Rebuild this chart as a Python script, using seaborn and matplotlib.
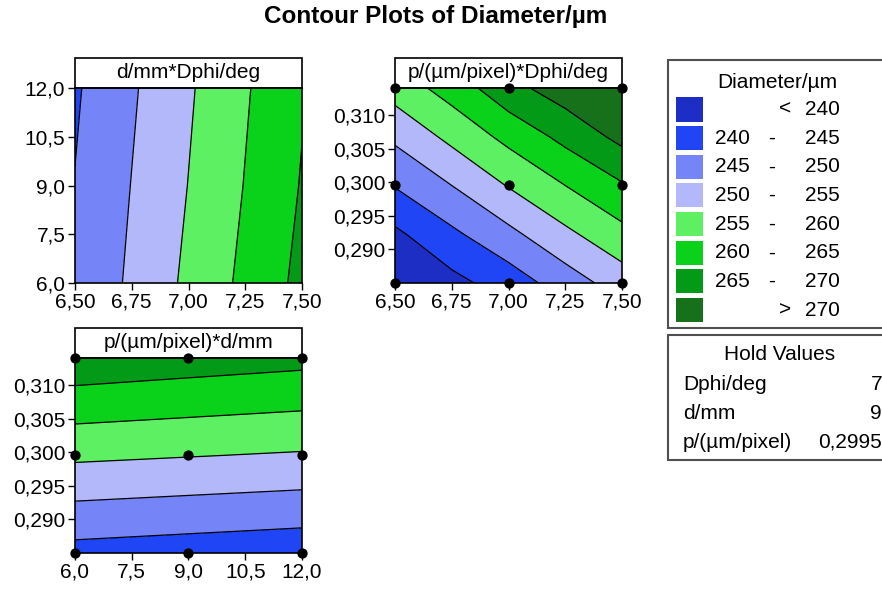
import numpy as np
import seaborn as sns
import matplotlib
matplotlib.use("Agg")
import matplotlib.pyplot as plt
from matplotlib.patches import Rectangle
from matplotlib.ticker import FuncFormatter

# ---- data -------------------------------------------------------------
# Diameter/um response over pairs of factors (other factors held)
dphi_fine = [6.5, 6.75, 7.0, 7.25, 7.5]
p_fine = [0.285, 0.29225, 0.2995, 0.30675, 0.314]
# rows: p (low -> high), columns: Dphi/deg
diam_p_dphi = [
    [232.6, 238.5, 242.3, 247.4, 252.4],
    [239.0, 244.0, 248.7, 253.9, 258.5],
    [245.3, 250.0, 255.3, 260.0, 264.5],
    [251.0, 256.3, 261.4, 266.4, 271.4],
    [257.2, 262.1, 268.4, 272.6, 277.8],
]

dphi_levels = [6.5, 7.0, 7.5]
d_levels = [6.0, 9.0, 12.0]
p_levels = [0.285, 0.2995, 0.314]
# rows: d/mm (low -> high), columns: Dphi/deg
diam_d_dphi = [
    [245.7, 256.0, 266.3],
    [245.15, 255.1, 265.3],
    [244.4, 254.4, 264.6],
]
# rows: p (low -> high), columns: d/mm
diam_p_d = [
    [243.3, 242.5, 241.7],
    [255.9, 255.2, 254.5],
    [268.6, 267.5, 266.5],
]

bounds = [200, 240, 245, 250, 255, 260, 265, 270, 300]
band_colors = ["#1c2ec4", "#1f45f5", "#7585f8", "#b3b8fb",
               "#5cf062", "#0ad21a", "#039a17", "#17701a"]
legend_low = ["", "240", "245", "250", "255", "260", "265", ""]
legend_sep = ["<", "-", "-", "-", "-", "-", "-", ">"]
legend_high = ["240", "245", "250", "255", "260", "265", "270", "270"]

hold_names = ["Dphi/deg", "d/mm", "p/(µm/pixel)"]
hold_values = ["7", "9", "0,2995"]

# ---- style ------------------------------------------------------------
sns.set_theme(style="white")
plt.rcParams["font.family"] = ["Liberation Sans", "DejaVu Sans"]
plt.rcParams["text.color"] = "black"
plt.rcParams["xtick.color"] = "black"
plt.rcParams["ytick.color"] = "black"
plt.rcParams["axes.labelcolor"] = "black"
FS = 15

W, H = 882, 589
fig = plt.figure(figsize=(W / 100, H / 100), dpi=100)
fig.patch.set_facecolor("white")


def px_axes(x0, y0, x1, y1):
    return fig.add_axes([x0 / W, 1 - y1 / H, (x1 - x0) / W, (y1 - y0) / H])


def comma_fmt(decimals):
    return FuncFormatter(lambda v, _: f"{v:.{decimals}f}".replace(".", ","))


def panel(ax, xs, ys, zs, title, xticks, yticks, xdec, ydec, dots=None):
    X, Y = np.meshgrid(xs, ys)
    Z = np.array(zs)
    ax.contourf(X, Y, Z, levels=bounds, colors=band_colors)
    ax.contour(X, Y, Z, levels=bounds[1:-1], colors="black", linewidths=0.9)
    if dots is not None:
        dx, dy = np.meshgrid(dots[0], dots[1])
        sns.scatterplot(x=dx.ravel(), y=dy.ravel(), ax=ax, color="black",
                        s=55, linewidth=0, clip_on=False, zorder=6,
                        legend=False)
    ax.set_xlim(xs[0], xs[-1])
    ax.set_ylim(ys[0], ys[-1])
    ax.set_xticks(xticks)
    ax.set_yticks(yticks)
    ax.xaxis.set_major_formatter(comma_fmt(xdec))
    ax.yaxis.set_major_formatter(comma_fmt(ydec))
    ax.tick_params(axis="both", which="major", direction="out", length=5,
                   width=1, color="black", labelcolor="black", labelsize=FS,
                   pad=2, bottom=True, left=True, top=False, right=False)
    for s in ax.spines.values():
        s.set_color("black")
        s.set_linewidth(1.2)
        s.set_zorder(5)
    # title strip above the panel
    hfrac = 30 / 195
    ax.add_patch(Rectangle((0, 1), 1, hfrac, transform=ax.transAxes,
                           facecolor="white", edgecolor="black", lw=1.2,
                           clip_on=False, zorder=4))
    ax.text(0.5, 1 + hfrac / 2, title, transform=ax.transAxes, ha="center",
            va="center", fontsize=FS, zorder=5)


ax1 = px_axes(75, 88, 302, 283)
ax2 = px_axes(395, 88, 622, 283)
ax3 = px_axes(75, 358, 302, 553)

panel(ax1, dphi_levels, d_levels, diam_d_dphi, "d/mm*Dphi/deg",
      [6.5, 6.75, 7.0, 7.25, 7.5], [6.0, 7.5, 9.0, 10.5, 12.0], 2, 1)
panel(ax2, dphi_fine, p_fine, diam_p_dphi, "p/(µm/pixel)*Dphi/deg",
      [6.5, 6.75, 7.0, 7.25, 7.5], [0.290, 0.295, 0.300, 0.305, 0.310], 2, 3,
      dots=(dphi_levels, p_levels))
panel(ax3, d_levels, p_levels, diam_p_d, "p/(µm/pixel)*d/mm",
      [6.0, 7.5, 9.0, 10.5, 12.0], [0.290, 0.295, 0.300, 0.305, 0.310], 1, 3,
      dots=(d_levels, p_levels))

fig.text(436 / W, 1 - 16 / H, "Contour Plots of Diameter/µm", ha="center",
         va="center", fontsize=17.5, fontweight="bold")


def fx(x):
    return x / W


def fy(y):
    return 1 - y / H


# legend box
fig.patches.append(Rectangle((fx(668), fy(328)), fx(900) - fx(668),
                             fy(60) - fy(328), transform=fig.transFigure,
                             facecolor="white", edgecolor="#505050", lw=1.5))
fig.text(fx(777), fy(82), "Diameter/µm", ha="center", va="center",
         fontsize=FS)
for i, c in enumerate(band_colors):
    yc = 109.5 + i * 28.65
    fig.patches.append(Rectangle((fx(676), fy(yc + 12)), fx(27), 24 / H,
                                 transform=fig.transFigure, facecolor=c,
                                 edgecolor="none"))
    if legend_low[i]:
        fig.text(fx(715), fy(yc), legend_low[i], ha="left", va="center",
                 fontsize=FS)
    sep_x = 772 if legend_sep[i] == "-" else 785
    fig.text(fx(sep_x), fy(yc), legend_sep[i], ha="center", va="center",
             fontsize=FS)
    fig.text(fx(805), fy(yc), legend_high[i], ha="left", va="center",
             fontsize=FS)

# hold values box
fig.patches.append(Rectangle((fx(668), fy(460)), fx(900) - fx(668),
                             fy(335) - fy(460), transform=fig.transFigure,
                             facecolor="white", edgecolor="#505050", lw=1.5))
fig.text(fx(780), fy(355), "Hold Values", ha="center", va="center",
         fontsize=FS)
for i, (n, v) in enumerate(zip(hold_names, hold_values)):
    yc = 385 + i * 28.5
    fig.text(fx(683), fy(yc), n, ha="left", va="center", fontsize=FS)
    fig.text(fx(882), fy(yc), v, ha="right", va="center", fontsize=FS)

fig.savefig("out.png", dpi=100)
